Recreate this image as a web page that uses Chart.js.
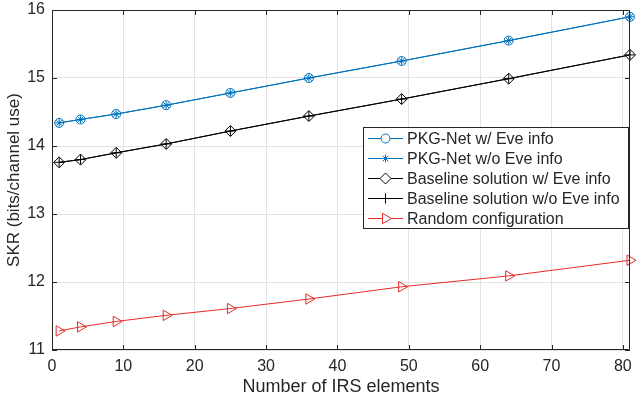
<!DOCTYPE html>
<html lang="en">
<head>
    <meta charset="UTF-8">
    <title>SKR vs IRS elements</title>
    <style>
        html, body { margin: 0; padding: 0; background: #fff; }
        #wrap { width: 637px; height: 400px; }
    </style>
</head>
<body>
    <div id="wrap"><canvas id="myChart" width="637" height="400"></canvas></div>
    <script src="https://cdn.jsdelivr.net/npm/chart.js"></script>
    <script>
        // values
        const irsElements = [1, 4, 9, 16, 25, 36, 49, 64, 81]
        const pkgWithEve = [14.34, 14.39, 14.47, 14.60, 14.78, 15.00, 15.25, 15.55, 15.90]
        const pkgWithoutEve = [14.34, 14.39, 14.47, 14.60, 14.78, 15.00, 15.25, 15.55, 15.90]
        const baseWithEve = [13.76, 13.80, 13.90, 14.03, 14.22, 14.44, 14.69, 14.99, 15.34]
        const baseWithoutEve = [13.76, 13.80, 13.90, 14.03, 14.22, 14.44, 14.69, 14.99, 15.34]
        const randomConfig = [11.28, 11.34, 11.42, 11.51, 11.61, 11.75, 11.93, 12.09, 12.32]
        const xTicks = [0, 10, 20, 30, 40, 50, 60, 70, 80]
        const yTicks = [11, 12, 13, 14, 15, 16]

        const FONT = '"Liberation Sans", Arial, Helvetica, sans-serif'
        const AXIS = '#262626'
        const BLUE = '#0072bd'
        const RED = '#e52a2a'

        const pts = (ys) => irsElements.map((x, i) => ({ x: x, y: ys[i] }))

        function series(label, ys, color, style, radius, rotation) {
            return {
                label: label,
                data: pts(ys),
                borderColor: color,
                borderWidth: 1,
                backgroundColor: 'rgba(0,0,0,0)',
                pointBorderColor: color,
                pointBackgroundColor: 'rgba(0,0,0,0)',
                pointStyle: style,
                pointRadius: radius,
                pointBorderWidth: 1,
                pointRotation: rotation || 0,
                tension: 0,
                clip: 10
            }
        }

        const datasets = [
            series('PKG-Net w/ Eve info', pkgWithEve, BLUE, 'circle', 4.5),
            series('PKG-Net w/o Eve info', pkgWithoutEve, BLUE, 'star', 4),
            series('Baseline solution w/ Eve info', baseWithEve, '#000', 'rectRot', 5.5),
            series('Baseline solution w/o Eve info', baseWithoutEve, '#000', 'cross', 5),
            series('Random configuration', randomConfig, RED, 'triangle', 6, 90)
        ]

        // box round the plot with inward ticks (matlab style)
        const framePlugin = {
            id: 'frame',
            afterDatasetsDraw(chart) {
                const { ctx, chartArea: a } = chart
                const xs = chart.scales.x, ys = chart.scales.y
                ctx.save()
                ctx.strokeStyle = AXIS
                ctx.lineWidth = 1
                ctx.beginPath()
                ctx.rect(a.left + 0.5, a.top + 0.5, a.right - a.left - 1, a.bottom - a.top - 1)
                xTicks.forEach(v => {
                    const px = Math.round(xs.getPixelForValue(v)) + 0.5
                    ctx.moveTo(px, a.bottom); ctx.lineTo(px, a.bottom - 5)
                    ctx.moveTo(px, a.top); ctx.lineTo(px, a.top + 5)
                })
                yTicks.forEach(v => {
                    const py = Math.round(ys.getPixelForValue(v)) + 0.5
                    ctx.moveTo(a.left, py); ctx.lineTo(a.left + 5, py)
                    ctx.moveTo(a.right, py); ctx.lineTo(a.right - 5, py)
                })
                ctx.stroke()
                ctx.restore()
            }
        }

        // legend drawn like the matlab one: line + marker + text
        const legendPlugin = {
            id: 'matLegend',
            afterDraw(chart) {
                const ctx = chart.ctx
                const bx = 363.5, by = 127.5, bw = 265, bh = 101
                ctx.save()
                ctx.fillStyle = '#fff'
                ctx.strokeStyle = AXIS
                ctx.lineWidth = 1
                ctx.fillRect(bx, by, bw, bh)
                ctx.strokeRect(bx, by, bw, bh)
                ctx.font = '16px ' + FONT
                ctx.textBaseline = 'middle'
                chart.data.datasets.forEach((ds, i) => {
                    const y = 138.5 + i * 20
                    ctx.strokeStyle = ds.borderColor
                    ctx.lineWidth = 1
                    ctx.beginPath()
                    ctx.moveTo(368, y); ctx.lineTo(403, y)
                    ctx.stroke()
                    ctx.fillStyle = '#fff'
                    Chart.helpers.drawPoint(ctx, {
                        pointStyle: ds.pointStyle,
                        radius: ds.pointRadius,
                        rotation: ds.pointRotation,
                        borderWidth: 1
                    }, 385.5, y)
                    ctx.fillStyle = AXIS
                    ctx.fillText(ds.label, 407, y + 1)
                })
                ctx.restore()
            }
        }

        const config = {
            type: 'line',
            data: { datasets: datasets },
            options: {
                responsive: false,
                animation: false,
                layout: { padding: { top: 10, right: 1, left: 0, bottom: 0 } },
                plugins: { legend: { display: false }, tooltip: { enabled: false } },
                scales: {
                    x: {
                        type: 'linear',
                        min: 0,
                        max: 81,
                        afterBuildTicks: (s) => { s.ticks = xTicks.map(v => ({ value: v })) },
                        afterFit: (s) => { s.height = 50; s.paddingLeft = 0; s.paddingRight = 0 },
                        grid: { color: '#e3e3e3', drawTicks: false, lineWidth: 1 },
                        border: { display: false },
                        ticks: { color: AXIS, font: { family: FONT, size: 16 }, padding: 7, maxRotation: 0 },
                        title: {
                            display: true,
                            text: 'Number of IRS elements',
                            color: AXIS,
                            font: { family: FONT, size: 18 },
                            padding: { top: 0, bottom: 2 }
                        }
                    },
                    y: {
                        type: 'linear',
                        min: 11,
                        max: 16,
                        afterBuildTicks: (s) => { s.ticks = yTicks.map(v => ({ value: v })) },
                        afterFit: (s) => { s.width = 52; s.paddingTop = 0; s.paddingBottom = 0 },
                        grid: { color: '#e3e3e3', drawTicks: false, lineWidth: 1 },
                        border: { display: false },
                        ticks: { color: AXIS, font: { family: FONT, size: 16 }, padding: 7 },
                        title: {
                            display: true,
                            text: 'SKR (bits/channel use)',
                            color: AXIS,
                            font: { family: FONT, size: 17 },
                            padding: { top: 4, bottom: 0 }
                        }
                    }
                }
            },
            plugins: [framePlugin, legendPlugin]
        }

        const chart = new Chart(document.getElementById('myChart'), config)
    </script>
</body>
</html>
